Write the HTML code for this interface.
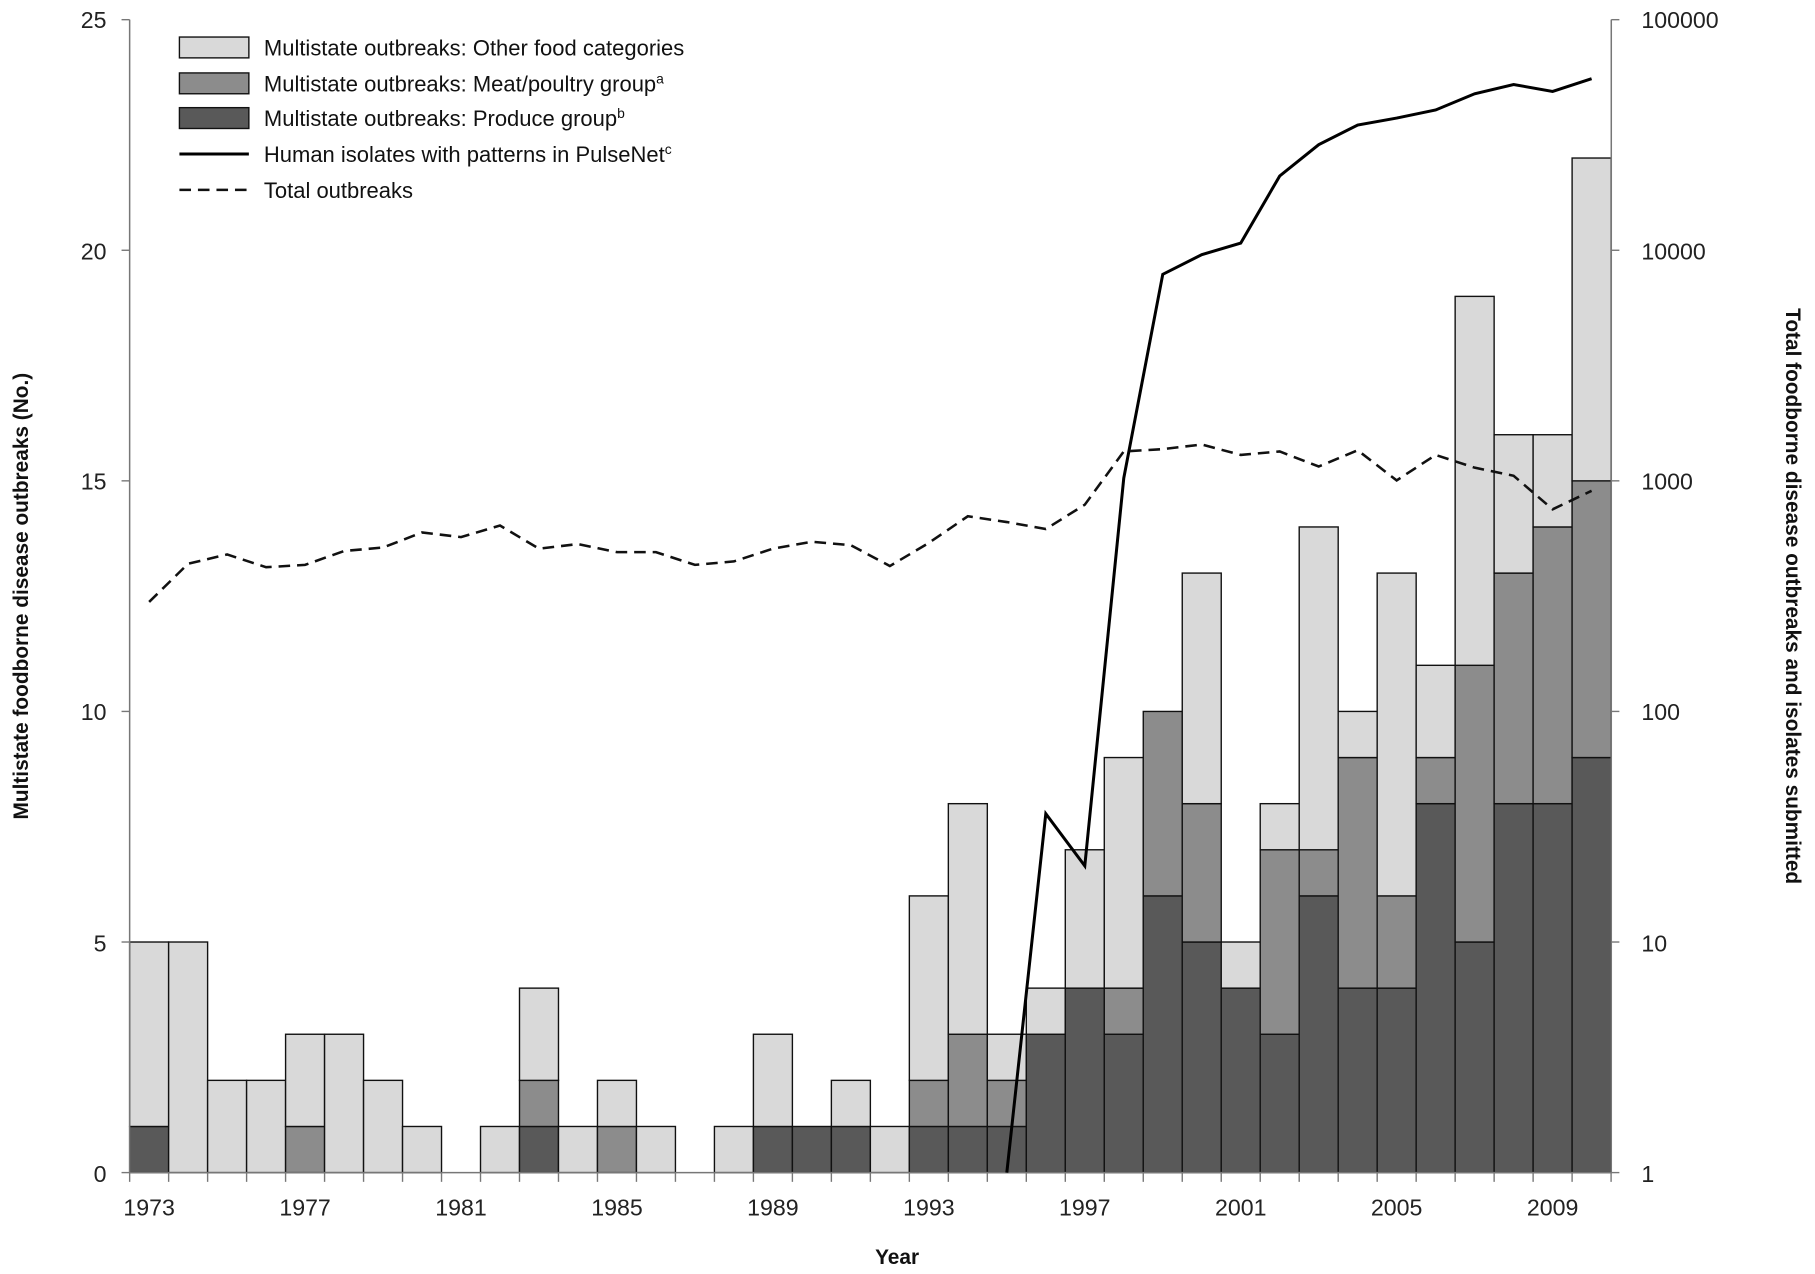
<!DOCTYPE html>
<html><head><meta charset="utf-8"><style>html,body{margin:0;padding:0;background:#fff}svg{display:block}</style></head>
<body>
<svg width="1815" height="1274" viewBox="0 0 1568 1100.6" preserveAspectRatio="none" xmlns="http://www.w3.org/2000/svg" font-family="Liberation Sans, sans-serif">
<g id="bars" stroke="#111" stroke-width="1.2"></g>
<g stroke="#777" stroke-width="1.3" fill="none">
<line x1="112" y1="17" x2="112" y2="1013"/>
<line x1="1392" y1="17" x2="1392" y2="1013"/>
<line x1="112" y1="1013" x2="1392" y2="1013"/>
</g>
<g id="ticks" stroke="#777" stroke-width="1.2"></g>
<g font-size="20" fill="#222" text-anchor="end">
<text x="92" y="1021">0</text><text x="92" y="822">5</text><text x="92" y="622">10</text><text x="92" y="423">15</text><text x="92" y="224">20</text><text x="92" y="24">25</text>
</g>
<g font-size="20" fill="#222" text-anchor="start">
<text x="1418" y="1021">1</text><text x="1418" y="822">10</text><text x="1418" y="622">100</text><text x="1418" y="423">1000</text><text x="1418" y="224">10000</text><text x="1418" y="24">100000</text>
</g>
<g id="xl" font-size="20" fill="#222" text-anchor="middle"></g>
<text x="775" y="1092" font-size="18" font-weight="bold" text-anchor="middle" fill="#111">Year</text>
<text transform="translate(24,515) rotate(-90)" font-size="18" font-weight="bold" text-anchor="middle" fill="#111">Multistate foodborne disease outbreaks (No.)</text>
<text transform="translate(1543,515) rotate(90)" font-size="18" font-weight="bold" text-anchor="middle" fill="#111">Total foodborne disease outbreaks and isolates submitted</text>
<polyline id="solid" fill="none" stroke="#000" stroke-width="2.6"/>
<polyline id="dash" fill="none" stroke="#111" stroke-width="2.2" stroke-dasharray="10,6"/>
<g font-size="19" fill="#111">
<rect x="155" y="32" width="60" height="18" fill="#d9d9d9" stroke="#111" stroke-width="1.2"/>
<text x="228" y="48">Multistate outbreaks:  Other food categories</text>
<rect x="155" y="63" width="60" height="18" fill="#8c8c8c" stroke="#111" stroke-width="1.2"/>
<text x="228" y="79">Multistate outbreaks:  Meat/poultry group<tspan font-size="12" dy="-7">a</tspan></text>
<rect x="155" y="93" width="60" height="18" fill="#595959" stroke="#111" stroke-width="1.2"/>
<text x="228" y="109">Multistate outbreaks:  Produce group<tspan font-size="12" dy="-7">b</tspan></text>
<line x1="155" y1="133" x2="215" y2="133" stroke="#000" stroke-width="2.6"/>
<text x="228" y="140">Human isolates with patterns in PulseNet<tspan font-size="12" dy="-7">c</tspan></text>
<line x1="155" y1="164" x2="215" y2="164" stroke="#111" stroke-width="2.2" stroke-dasharray="10,6"/>
<text x="228" y="171">Total outbreaks</text>
</g>
<script>
var d=[[1,0,5],[0,0,5],[0,0,2],[0,0,2],[0,1,3],[0,0,3],[0,0,2],[0,0,1],[0,0,0],[0,0,1],[1,1,4],[0,0,1],[0,1,2],[0,0,1],[0,0,0],[0,0,1],[1,0,3],[1,0,1],[1,0,2],[0,0,1],[1,1,6],[1,2,8],[1,1,3],[3,0,4],[4,0,7],[3,1,9],[6,4,10],[5,3,13],[4,0,5],[3,4,8],[6,1,14],[4,5,10],[4,2,13],[8,1,11],[5,6,19],[8,5,16],[8,6,16],[9,6,22]];
var X0=112,W=33.68,B=1013,U=39.84,ns="http://www.w3.org/2000/svg";
var g=document.getElementById('bars'),t=document.getElementById('ticks'),xl=document.getElementById('xl');
function r(x,y,w,h,c){if(h<=0)return;var e=document.createElementNS(ns,'rect');e.setAttribute('x',x);e.setAttribute('y',y);e.setAttribute('width',w);e.setAttribute('height',h);e.setAttribute('fill',c);g.appendChild(e);}
d.forEach(function(v,i){var x=X0+i*W;var p=v[0],m=v[1],tot=v[2];
r(x,B-p*U,W,p*U,'#595959');r(x,B-(p+m)*U,W,m*U,'#8c8c8c');r(x,B-tot*U,W,(tot-p-m)*U,'#d9d9d9');});
for(var i=0;i<=38;i++){var l=document.createElementNS(ns,'line');var x=X0+i*W;l.setAttribute('x1',x);l.setAttribute('x2',x);l.setAttribute('y1',1013);l.setAttribute('y2',1021);t.appendChild(l);}
[0,5,10,15,20,25].forEach(function(v){var y=B-v*U;var l=document.createElementNS(ns,'line');l.setAttribute('x1',105);l.setAttribute('x2',112);l.setAttribute('y1',y);l.setAttribute('y2',y);t.appendChild(l);
l=document.createElementNS(ns,'line');l.setAttribute('x1',1392);l.setAttribute('x2',1399);l.setAttribute('y1',y);l.setAttribute('y2',y);t.appendChild(l);});
for(var y=1973;y<=2009;y+=4){var e=document.createElementNS(ns,'text');e.setAttribute('x',X0+(y-1973+0.5)*W);e.setAttribute('y',1050);e.textContent=y;xl.appendChild(e);}
function cx(i){return X0+(i+0.5)*W;}
var s=[[22,1013],[23,703],[24,748],[25,413],[26,237],[27,220],[28,210],[29,152],[30,125],[31,108],[32,102],[33,95],[34,81],[35,73],[36,79],[37,68]];
document.getElementById('solid').setAttribute('points',s.map(function(a){return cx(a[0])+','+a[1];}).join(' '));
var dd=[520,487,479,490,488,476,473,460,464,454,474,470,477,477,488,485,474,468,471,489,469,446,451,457,436,390,388,384,393,390,403,389,415,393,404,411,440,424];
document.getElementById('dash').setAttribute('points',dd.map(function(v,i){return cx(i)+','+v;}).join(' '));
</script>
</svg>
</body></html>
